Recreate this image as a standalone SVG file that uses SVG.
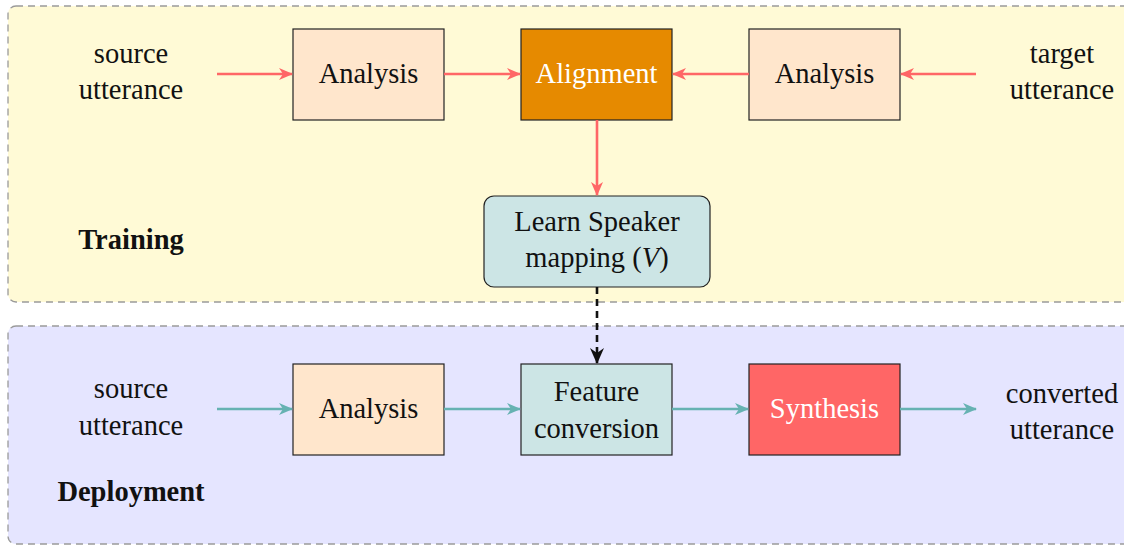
<svg xmlns="http://www.w3.org/2000/svg" width="1124" height="545" viewBox="0 0 1124 545">
<style>
text{font-family:"Liberation Serif","DejaVu Serif",serif;font-size:28.5px;fill:#111;text-anchor:middle}
.w{fill:#fff}
.b{font-weight:bold}
.box{stroke:#222;stroke-width:1.2}
.region{stroke:#9a9a9a;stroke-width:1.3;stroke-dasharray:7 5}
.red{stroke:#FF6666;stroke-width:2.6;fill:none}
.teal{stroke:#66B2B2;stroke-width:2.6;fill:none}
.dash{stroke:#111;stroke-width:2.6;fill:none;stroke-dasharray:7 5}
</style>
<defs>
<marker id="mr" viewBox="0 0 14 12" refX="13" refY="6" markerWidth="14" markerHeight="12" markerUnits="userSpaceOnUse" orient="auto"><path d="M0,0 L14,6 L0,12 L4,6 Z" fill="#FF6666"/></marker>
<marker id="mt" viewBox="0 0 14 12" refX="13" refY="6" markerWidth="14" markerHeight="12" markerUnits="userSpaceOnUse" orient="auto"><path d="M0,0 L14,6 L0,12 L4,6 Z" fill="#66B2B2"/></marker>
<marker id="mk" viewBox="0 0 16 14" refX="15" refY="7" markerWidth="16" markerHeight="14" markerUnits="userSpaceOnUse" orient="auto"><path d="M0,0 L16,7 L0,14 L5,7 Z" fill="#111"/></marker>
</defs>
<rect width="1124" height="545" fill="#fff"/>
<g id="training-region">
<rect class="region" x="8" y="6" width="1130" height="296" rx="8" fill="#FFFAD6"/>
<text class="b" x="131" y="249">Training</text>
</g>
<g id="deployment-region">
<rect class="region" x="8" y="326" width="1130" height="218" rx="8" fill="#E5E5FF"/>
<text class="b" x="131" y="501">Deployment</text>
</g>
<g id="src1"><text x="131" y="63">source</text><text x="131" y="99">utterance</text></g>
<g id="tgt1"><text x="1062" y="63">target</text><text x="1062" y="99">utterance</text></g>
<g id="analysis1"><rect class="box" x="293" y="29" width="151" height="91" fill="#FFE6CC"/><text x="368.5" y="83">Analysis</text></g>
<g id="alignment"><rect class="box" x="521" y="29" width="151" height="91" fill="#E68A00"/><text class="w" x="596.5" y="83">Alignment</text></g>
<g id="analysis2"><rect class="box" x="749" y="29" width="151" height="91" fill="#FFE6CC"/><text x="824.5" y="83">Analysis</text></g>
<g id="learn"><rect class="box" x="484" y="196" width="226" height="91" rx="10" fill="#CCE5E5"/><text x="597" y="231">Learn Speaker</text><text x="597" y="267">mapping (<tspan font-style="italic">V</tspan>)</text></g>
<g id="src2"><text x="131" y="398">source</text><text x="131" y="435">utterance</text></g>
<g id="analysis3"><rect class="box" x="293" y="364" width="151" height="91" fill="#FFE6CC"/><text x="368.5" y="418">Analysis</text></g>
<g id="feature"><rect class="box" x="521" y="364" width="151" height="91" fill="#CCE5E5"/><text x="596.5" y="401">Feature</text><text x="596.5" y="438">conversion</text></g>
<g id="synthesis"><rect class="box" x="749" y="364" width="151" height="91" fill="#FF6666"/><text class="w" x="824.5" y="418">Synthesis</text></g>
<g id="converted"><text x="1062" y="403">converted</text><text x="1062" y="439">utterance</text></g>
<g id="connectors">
<line class="red" x1="217" y1="74" x2="292" y2="74" marker-end="url(#mr)"/>
<line class="red" x1="444" y1="74" x2="520" y2="74" marker-end="url(#mr)"/>
<line class="red" x1="749" y1="74" x2="673" y2="74" marker-end="url(#mr)"/>
<line class="red" x1="976" y1="74" x2="901" y2="74" marker-end="url(#mr)"/>
<line class="red" x1="597" y1="120" x2="597" y2="195" marker-end="url(#mr)"/>
<line class="dash" x1="597" y1="287" x2="597" y2="363" marker-end="url(#mk)"/>
<line class="teal" x1="217" y1="409" x2="292" y2="409" marker-end="url(#mt)"/>
<line class="teal" x1="444" y1="409" x2="520" y2="409" marker-end="url(#mt)"/>
<line class="teal" x1="672" y1="409" x2="748" y2="409" marker-end="url(#mt)"/>
<line class="teal" x1="900" y1="409" x2="976" y2="409" marker-end="url(#mt)"/>
</g>
</svg>
